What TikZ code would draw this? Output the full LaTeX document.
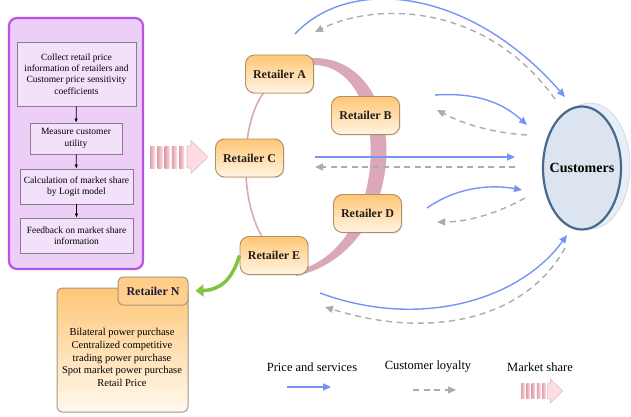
\documentclass[tikz,border=0pt]{standalone}
\usepackage{fontspec}
\setmainfont{Liberation Serif}
\usetikzlibrary{arrows.meta,shapes.geometric,shadows,backgrounds}

\definecolor{pricecol}{RGB}{118,148,245}
\definecolor{loyalcol}{RGB}{172,172,172}
\definecolor{ringcol}{RGB}{218,168,183}
\definecolor{flowline}{RGB}{186,82,228}
\definecolor{flowfill}{RGB}{236,206,246}
\definecolor{stepfill}{RGB}{243,224,250}
\definecolor{stepline}{RGB}{135,125,140}
\definecolor{retline}{RGB}{176,142,96}
\definecolor{rettop}{RGB}{255,198,118}
\definecolor{retbottom}{RGB}{255,245,228}
\definecolor{custline}{RGB}{70,105,140}
\definecolor{custfill}{RGB}{220,229,239}
\definecolor{custside}{RGB}{232,238,245}
\definecolor{greenarrow}{RGB}{128,196,66}
\definecolor{sharedark}{RGB}{222,158,170}
\definecolor{sharelight}{RGB}{252,222,226}

\tikzset{
  retailer/.style={draw=retline, line width=0.9pt, rounded corners=9pt,
    top color=rettop, bottom color=retbottom,
    minimum width=68pt, minimum height=38pt, inner sep=1pt,
    font=\bfseries\fontsize{12}{14}\selectfont, text={rgb,255:red,35;green,30;blue,25},
    drop shadow={opacity=0.2, shadow xshift=1pt, shadow yshift=-1.2pt}},
  flowstep/.style={draw=stepline, line width=0.9pt, fill=stepfill, align=center,
    inner sep=1pt, font=\fontsize{9.5}{11.3}\selectfont},
  price/.style={draw=pricecol, line width=1.4pt, -{Triangle[length=8pt,width=7pt]}},
  loyalty/.style={draw=loyalcol, line width=1.4pt, dash pattern=on 6pt off 4.5pt,
    -{Triangle[length=8pt,width=7pt]}},
  sharearrow/.pic={
    \foreach \i in {0,...,4}
      \shade[left color=sharedark, right color=sharelight] (\i*7.3,-11) rectangle ++(5,22);
    \draw[draw=sharedark!70, fill=sharelight, line width=0.6pt]
      (37,-11) -- (41,-11) -- (41,-16.5) -- (58,0) -- (41,16.5) -- (41,11) -- (37,11) -- cycle;
  }
}

\begin{document}
\begin{tikzpicture}[x=1pt,y=-1pt]
	\useasboundingbox (0,0) rectangle (631,417);

	\node[draw=flowline, line width=2.2pt, rounded corners=8pt, fill=flowfill,
		minimum width=134pt, minimum height=251pt] (flow) at (76,143.5) {};
	\node[flowstep, minimum width=119pt, minimum height=64pt] (step1) at (76.5,74)
		{Collect retail price\\information of retailers and\\Customer price sensitivity\\coefficients};
	\node[flowstep, minimum width=92pt, minimum height=31pt] (step2) at (76,138.5)
		{Measure customer\\utility};
	\node[flowstep, minimum width=113pt, minimum height=35pt] (step3) at (76.5,186.5)
		{Calculation of market share\\by Logit model};
	\node[flowstep, minimum width=113pt, minimum height=35pt] (step4) at (76.5,235.5)
		{Feedback on market share\\information};
	\draw[-{Latex[length=4pt,width=3.5pt]}, line width=0.7pt] (step1) -- (step2);
	\draw[-{Latex[length=4pt,width=3.5pt]}, line width=0.7pt] (step2) -- (step3);
	\draw[-{Latex[length=4pt,width=3.5pt]}, line width=0.7pt] (step3) -- (step4);

	\pic at (150,157) {sharearrow};

	\node[retailer] (A) at (279.5,74) {Retailer A};
	\node[retailer] (B) at (365.5,115.5) {Retailer B};
	\node[retailer] (C) at (249.5,158) {Retailer C};
	\node[retailer] (D) at (367.5,213.5) {Retailer D};
	\node[retailer] (E) at (274,255.5) {Retailer E};

	\begin{pgfonlayer}{background}
		\draw[ringcol, line width=1.6pt] (A.230) .. controls (240,125) and (240,200) .. (E.122);
		\fill[ringcol] (311,58) .. controls (414,55) and (414,250) .. (296,276)
			-- (296,271) .. controls (393,247) and (393,62) .. (311,65) -- cycle;
	\end{pgfonlayer}

	\node[ellipse, draw=custline!25, line width=0.8pt, fill=custside, inner sep=0pt,
		minimum width=80pt, minimum height=126pt] (custside) at (590,166) {};
	\node[ellipse, draw=custline, line width=2.2pt, fill=custfill, inner sep=0pt,
		minimum width=78pt, minimum height=123pt,
		label={[font=\bfseries\fontsize{14}{16}\selectfont]center:Customers}] (cust) at (582,168) {};

	\coordinate (p1s) at (295,34);   \coordinate (p1e) at (565,97);
	\coordinate (l1s) at (555,99);   \coordinate (l1e) at (315,32);
	\coordinate (p2s) at (435,95);   \coordinate (p2e) at (527,125);
	\coordinate (l2s) at (527,135);  \coordinate (l2e) at (437,110);
	\coordinate (p3s) at (315,157);  \coordinate (p3e) at (515,157);
	\coordinate (l3s) at (515,167);  \coordinate (l3e) at (315,167);
	\coordinate (p4s) at (427,208);  \coordinate (p4e) at (522,190);
	\coordinate (l4s) at (525,198);  \coordinate (l4e) at (437,222);
	\coordinate (p5s) at (320,293);  \coordinate (p5e) at (567,235);
	\coordinate (l5s) at (565,248);  \coordinate (l5e) at (325,307);

	\draw[price] (p1s) .. controls (350,-25) and (470,-12) .. (p1e);
	\draw[loyalty] (l1s) .. controls (485,2) and (375,2) .. (l1e);
	\draw[price] (p2s) .. controls (480,92) and (505,105) .. (p2e);
	\draw[loyalty] (l2s) .. controls (495,133) and (465,125) .. (l2e);
	\draw[price] (p3s) -- (p3e);
	\draw[loyalty] (l3s) -- (l3e);
	\draw[price] (p4s) .. controls (460,185) and (495,185) .. (p4e);
	\draw[loyalty] (l4s) .. controls (500,212) and (470,222) .. (l4e);
	\draw[price] (p5s) .. controls (420,330) and (520,300) .. (p5e);
	\draw[loyalty] (l5s) .. controls (525,320) and (430,340) .. (l5e);

	\node[draw={rgb,255:red,165;green,150;blue,130}, line width=1pt, rounded corners=5pt,
		top color=rettop, bottom color=retbottom!60!white,
		minimum width=131pt, minimum height=124pt] (Nbox) at (122.5,350) {};
	\node[draw={rgb,255:red,165;green,150;blue,130}, line width=1pt, rounded corners=5pt,
		top color=rettop!90!white, bottom color=rettop!75!retbottom,
		minimum width=70pt, minimum height=28pt, font=\bfseries\fontsize{12}{14}\selectfont,
		text={rgb,255:red,30;green,30;blue,60}] (Ntab) at (153,291) {Retailer N};
	\node[align=center, font=\fontsize{10.5}{12.7}\selectfont] (Ntext) at (122,357.5)
		{Bilateral power purchase\\Centralized competitive\\trading power purchase\\Spot market power purchase\\Retail Price};

	\draw[greenarrow, line width=3.5pt, shorten >=7pt, -{Triangle[length=8pt,width=12pt]}]
		(E.west) .. controls (232,280) and (220,290) .. (Ntab.east);

	\node[font=\fontsize{12.5}{14}\selectfont] (legprice) at (312,367) {Price and services};
	\node[font=\fontsize{12.5}{14}\selectfont] (legloyal) at (428,367) {Customer loyalty};
	\node[font=\fontsize{12.5}{14}\selectfont] (legshare) at (540,367) {Market share};
	\coordinate (lp1) at (287,387); \coordinate (lp2) at (331,387);
	\coordinate (ll1) at (413,390); \coordinate (ll2) at (456,390);
	\draw[price] (lp1) -- (lp2);
	\draw[loyalty] (ll1) -- (ll2);
	\pic[scale=0.72] at (521,391) {sharearrow};
\end{tikzpicture}
\end{document}
